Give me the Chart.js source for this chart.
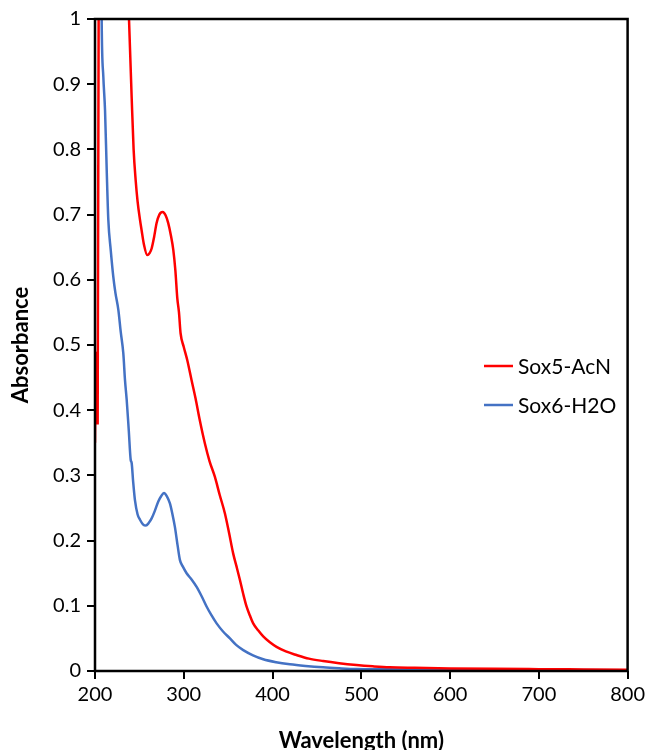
<!DOCTYPE html>
<html>
<head>
<meta charset="utf-8">
<script src="https://cdn.jsdelivr.net/npm/chart.js@4/dist/chart.umd.min.js"></script>
<style>
  html, body { margin: 0; padding: 0; background: #fff; }
  #wrap { width: 649px; height: 750px; }
</style>
</head>
<body>
<div id="wrap"><canvas id="graphCanvas" width="649" height="750"></canvas></div>
<script>
// values
const seriesNames = ['Sox5-AcN', 'Sox6-H2O'];
const seriesColors = ['#ff0000', '#4472c4'];

const sox5Wavelength = [200, 200.6, 201.5, 203, 205, 215, 232, 236.5, 238.3, 241.3, 243.5, 245.8, 248, 250.7, 252.5, 255, 258.9, 261.5, 263.8, 266.5, 269.4, 272.5, 276.2, 279.5, 282.5, 285.5, 288.2, 290.5, 292.7, 294.6, 296.4, 300, 303.9, 308.8, 313.3, 318, 323.8, 329, 335, 340.5, 346.3, 351, 355.7, 359.5, 363.2, 367, 370.7, 374.5, 378.2, 384, 389.5, 397, 404.5, 415, 427, 441, 457, 475, 494.6, 513, 532, 560, 600, 650, 700, 750, 800];
const sox5Absorbance = [0.35, 0.49, 0.38, 0.38, 1.6, 2.6, 1.5, 1.08, 1.0, 0.88, 0.80, 0.753, 0.72, 0.692, 0.676, 0.655, 0.638, 0.641, 0.648, 0.665, 0.687, 0.700, 0.704, 0.699, 0.687, 0.668, 0.646, 0.615, 0.572, 0.550, 0.518, 0.497, 0.477, 0.446, 0.418, 0.385, 0.349, 0.322, 0.298, 0.270, 0.242, 0.212, 0.180, 0.160, 0.140, 0.118, 0.099, 0.085, 0.073, 0.062, 0.053, 0.044, 0.037, 0.030, 0.0245, 0.019, 0.0153, 0.012, 0.0092, 0.0072, 0.0056, 0.0048, 0.0040, 0.0033, 0.0028, 0.0024, 0.0020];

const sox6Wavelength = [200, 205, 207.5, 209.4, 211.3, 213.2, 215, 217.7, 220.6, 223, 226.3, 229, 231.9, 233.8, 235.7, 238, 240.2, 241.3, 243, 245, 248, 250.7, 254, 257.4, 260.5, 263.8, 267.5, 271.3, 274.5, 277.7, 281, 284.4, 287, 290, 293, 295.7, 299, 303.2, 309, 314.5, 320, 325.7, 331, 337, 344, 352, 359, 367, 378, 389.5, 404, 419.5, 437, 457, 475, 494.6, 530, 600, 700, 800];
const sox6Absorbance = [2.5, 1.6, 1.0, 0.911, 0.86, 0.768, 0.692, 0.646, 0.605, 0.58, 0.554, 0.52, 0.487, 0.446, 0.416, 0.37, 0.324, 0.319, 0.29, 0.262, 0.24, 0.232, 0.225, 0.223, 0.227, 0.234, 0.246, 0.260, 0.268, 0.273, 0.268, 0.257, 0.242, 0.221, 0.193, 0.170, 0.160, 0.150, 0.140, 0.129, 0.115, 0.099, 0.086, 0.073, 0.061, 0.050, 0.040, 0.032, 0.024, 0.018, 0.0135, 0.0103, 0.0078, 0.0056, 0.0042, 0.003, 0.0025, 0.0020, 0.0015, 0.0012];

const xTicks = [200, 300, 400, 500, 600, 700, 800];
const yTicks = [0, 0.1, 0.2, 0.3, 0.4, 0.5, 0.6, 0.7, 0.8, 0.9, 1];

const FONT = 'Lato, "Open Sans", sans-serif';

function toPoints(xs, ys) {
    let pts = [];
    for (let i = 0; i < xs.length; i++) pts.push({ x: xs[i], y: ys[i] });
    return pts;
}

// full black frame round the plot area
const frame = {
    id: 'frame',
    afterDatasetsDraw(chart) {
        const a = chart.chartArea, ctx = chart.ctx;
        ctx.save();
        ctx.strokeStyle = '#000';
        ctx.lineWidth = 2.5;
        ctx.strokeRect(a.left, a.top, a.right - a.left, a.bottom - a.top);
        ctx.restore();
    }
};

// legend drawn inside the plot, on the right
const sideLegend = {
    id: 'sideLegend',
    afterDraw(chart) {
        const ctx = chart.ctx;
        ctx.save();
        ctx.font = '21px ' + FONT;
        ctx.textBaseline = 'middle';
        ctx.fillStyle = '#000';
        chart.data.datasets.forEach(function (ds, i) {
            const y = 366 + i * 39;
            ctx.strokeStyle = ds.borderColor;
            ctx.lineWidth = 2.5;
            ctx.beginPath();
            ctx.moveTo(484, y);
            ctx.lineTo(513, y);
            ctx.stroke();
            ctx.fillText(ds.label, 518, y + 1);
        });
        ctx.restore();
    }
};

const datasets = [
    { label: seriesNames[0], data: toPoints(sox5Wavelength, sox5Absorbance), borderColor: seriesColors[0] },
    { label: seriesNames[1], data: toPoints(sox6Wavelength, sox6Absorbance), borderColor: seriesColors[1] }
].map(function (d) {
    return Object.assign(d, { borderWidth: 2.5, pointRadius: 0, fill: false, cubicInterpolationMode: 'monotone' });
});

new Chart(document.getElementById('graphCanvas'), {
    type: 'line',
    data: { datasets: datasets },
    plugins: [frame, sideLegend],
    options: {
        responsive: false,
        animation: false,
        layout: { padding: { top: 19, right: 21, left: 0, bottom: 0 } },
        plugins: { legend: { display: false }, tooltip: { enabled: false } },
        scales: {
            x: {
                type: 'linear',
                min: 200, max: 800,
                afterBuildTicks(s) { s.ticks = xTicks.map(v => ({ value: v })); },
                afterFit(s) { s.height = 79; },
                grid: { drawOnChartArea: false, drawTicks: true, tickLength: 8, color: '#000', lineWidth: 2 },
                border: { display: false },
                ticks: { color: '#000', font: { family: FONT, size: 20 }, padding: 4, maxRotation: 0 },
                title: { display: true, text: 'Wavelength (nm)', color: '#000', font: { family: FONT, size: 22, weight: 'bold' }, padding: { top: -4, bottom: -4 } }
            },
            y: {
                min: 0, max: 1,
                afterBuildTicks(s) { s.ticks = yTicks.map(v => ({ value: v })); },
                afterFit(s) { s.width = 95; },
                grid: { drawOnChartArea: false, drawTicks: true, tickLength: 8, color: '#000', lineWidth: 2 },
                border: { display: false },
                ticks: { color: '#000', font: { family: FONT, size: 20 }, padding: 6, callback: v => String(Math.round(v * 10) / 10) },
                title: { display: true, text: 'Absorbance', color: '#000', font: { family: FONT, size: 22, weight: 'bold' }, padding: { top: 8, bottom: 0 } }
            }
        }
    }
});
</script>
</body>
</html>
